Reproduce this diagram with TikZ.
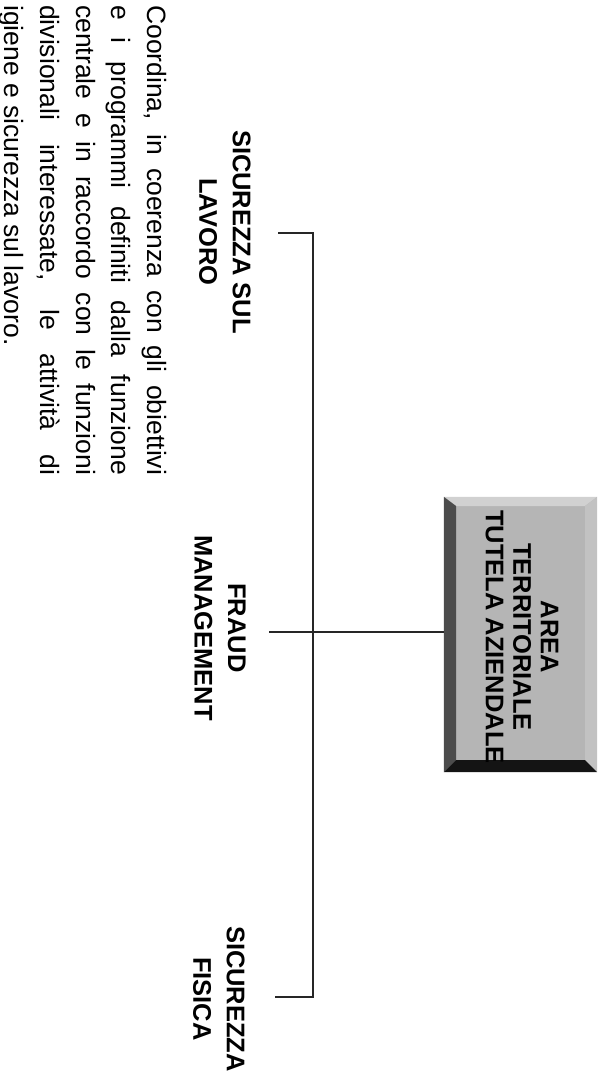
\documentclass[tikz,border=0pt]{standalone}
\usepackage{fontspec}
\setmainfont{Liberation Sans}
\begin{document}
\begin{tikzpicture}[x=1pt,y=-1pt,
  conn/.style={line width=1.3pt,draw=black!85},
  lbl/.style={rotate=-90,align=center,inner sep=0pt,font=\fontsize{25.5}{33.5}\selectfont\bfseries},
  boxtext/.style={rotate=-90,align=center,inner sep=0pt,font=\fontsize{25.5}{27.5}\selectfont\bfseries},
  para/.style={rotate=-90,align=justify,inner sep=0pt,text width=470pt,font=\fontsize{26.5}{35.75}\selectfont},
  outerbox/.style={minimum width=153pt,minimum height=275pt,inner sep=0pt,fill=black!30}
]
\useasboundingbox (0,0) rectangle (604,1079);
\fill[white] (0,0) rectangle (604,1079);

% bevelled box
\node[outerbox] (box) at (520.5,634.5) {};
\fill[black!29] (456,506) rectangle (585,760);
\fill[black!18] (box.north west) -- (box.north east) -- (585,506) -- (456,506) -- cycle;
\fill[black!24] (box.north east) -- (box.south east) -- (585,760) -- (585,506) -- cycle;
\fill[black!70] (box.north west) -- (456,506) -- (456,760) -- (box.south west) -- cycle;
\fill[black!92] (box.south west) -- (456,760) -- (585,760) -- (box.south east) -- cycle;
\node[boxtext] (boxlabel) at (522,637) {AREA\\TERRITORIALE\\TUTELA AZIENDALE};

% labels
\node[lbl] (lavoro) at (225,232) {SICUREZZA SUL\\LAVORO};
\node[lbl] (fraud) at (220,628) {FRAUD\\MANAGEMENT};
\node[lbl] (fisica) at (219,999) {SICUREZZA\\FISICA};

% connector points
\coordinate (lt) at (278,233);
\coordinate (bt) at (313,233);
\coordinate (ft) at (269,632);
\coordinate (bb) at (313,997);
\coordinate (st) at (275,997);

\draw[conn] (lt) -- (bt) -- (bb) -- (st);
\draw[conn] (ft) -- (ft -| box.west);

% description
\node[para,anchor=north west] (desc) at (167,5) {Coordina, in coerenza con gli obiettivi\linebreak
e i programmi definiti dalla funzione\linebreak
centrale e in raccordo con le funzioni\linebreak
divisionali interessate, le attività di\linebreak
igiene e sicurezza sul lavoro.};
\end{tikzpicture}
\end{document}
